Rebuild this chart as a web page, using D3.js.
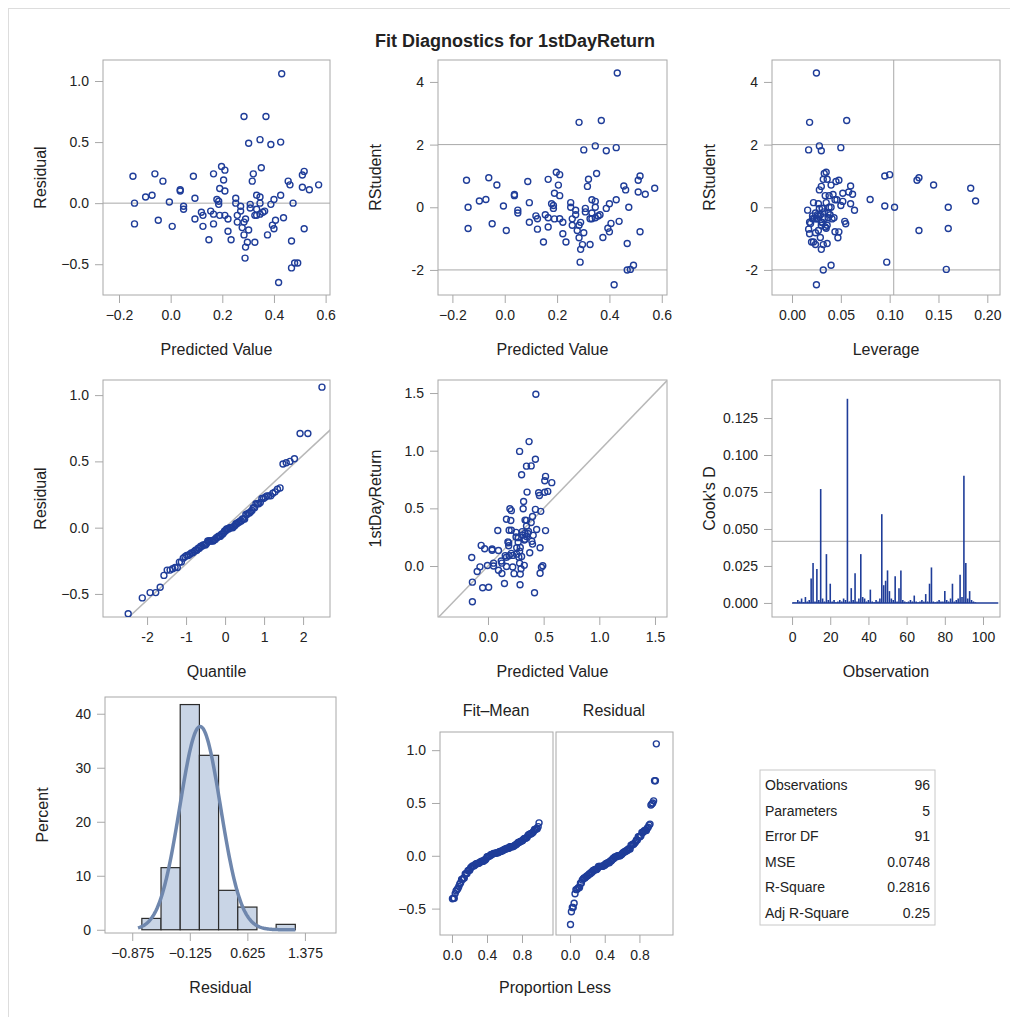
<!DOCTYPE html>
<html><head><meta charset="utf-8">
<script src="https://cdn.jsdelivr.net/npm/d3@7"></script>
<style>
body{margin:0;background:#fff;}
text{font-family:"Liberation Sans",Arial,sans-serif;fill:#222;}
</style></head>
<body><svg id="chart" width="1010" height="1017"></svg>
<script>
// fit data
const predicted = [0.43,0.284,0.369,0.302,0.346,0.388,0.426,-0.146,-0.061,-0.03,0.088,0.166,0.197,0.21,0.205,0.19,0.21,0.32,0.316,0.351,0.455,0.462,0.517,0.51,0.51,0.537,0.573,0.037,0.037,-0.097,-0.072,-0.14,-0.005,0.094,0.179,0.186,0.252,0.252,0.333,0.346,0.426,0.40,0.474,0.05,0.05,-0.14,-0.048,0.006,0.094,0.119,0.125,0.125,0.155,0.166,0.166,0.19,0.21,0.222,0.222,0.234,0.148,0.258,0.258,0.271,0.277,0.284,0.29,0.302,0.297,0.29,0.288,0.308,0.308,0.326,0.326,0.333,0.346,0.346,0.364,0.375,0.388,0.394,0.40,0.406,0.437,0.468,0.517,0.418,0.468,0.48,0.492,0.333,0.357,0.186,0.271,0.284];
const residual = [1.06,0.71,0.71,0.49,0.52,0.48,0.50,0.22,0.24,0.18,0.22,0.24,0.30,0.27,0.19,0.12,0.10,0.24,0.18,0.29,0.18,0.15,0.26,0.23,0.13,0.11,0.15,0.11,0.10,0.05,0.065,0.0,0.01,0.04,0.03,-0.01,0.04,0.0,0.065,0.05,0.065,0.03,0.0,-0.025,-0.05,-0.17,-0.14,-0.19,-0.13,-0.075,-0.10,-0.19,-0.065,-0.17,-0.09,-0.10,-0.10,-0.13,-0.23,-0.30,-0.30,-0.10,-0.155,-0.065,-0.20,-0.26,-0.13,-0.22,-0.32,-0.36,-0.45,-0.01,-0.04,-0.10,-0.32,-0.05,0.0,-0.09,-0.065,-0.26,-0.01,-0.18,-0.21,-0.14,-0.12,-0.31,-0.21,-0.65,-0.53,-0.49,-0.49,-0.10,-0.075,0.015,-0.025,-0.155];
const leverage = [0.025,0.018,0.056,0.017,0.028,0.030,0.050,0.128,0.130,0.145,0.045,0.032,0.035,0.100,0.040,0.052,0.038,0.036,0.030,0.033,0.060,0.028,0.095,0.048,0.058,0.062,0.183,0.042,0.034,0.188,0.080,0.160,0.095,0.022,0.027,0.031,0.035,0.038,0.044,0.052,0.046,0.060,0.105,0.016,0.024,0.160,0.055,0.130,0.018,0.021,0.026,0.017,0.029,0.034,0.037,0.041,0.025,0.030,0.018,0.022,0.020,0.033,0.036,0.039,0.027,0.047,0.031,0.024,0.032,0.030,0.097,0.028,0.033,0.021,0.024,0.037,0.040,0.043,0.026,0.029,0.031,0.035,0.048,0.019,0.054,0.036,0.044,0.025,0.032,0.158,0.040,0.023,0.027,0.050,0.064,0.030];
const cooksD = [0.0005,0.0003,0.002,0.001,0.003,0.0005,0.004,0.001,0.002,0.0165,0.027,0.001,0.023,0.002,0.077,0.003,0.001,0.033,0.002,0.013,0.001,0.002,0.0005,0.001,0.002,0.001,0.003,0.002,0.138,0.001,0.010,0.002,0.020,0.001,0.003,0.033,0.004,0.003,0.001,0.002,0.009,0.001,0.0005,0.002,0.001,0.003,0.060,0.012,0.015,0.022,0.008,0.003,0.002,0.018,0.001,0.010,0.022,0.002,0.001,0.0005,0.001,0.002,0.001,0.005,0.001,0.0005,0.001,0.002,0.001,0.006,0.001,0.013,0.024,0.001,0.0005,0.001,0.002,0.001,0.001,0.008,0.002,0.001,0.003,0.013,0.001,0.002,0.003,0.019,0.004,0.086,0.027,0.003,0.008,0.002,0.001,0.0005];
const histEdges = [-0.75,-0.5,-0.25,0,0.25,0.5,0.75,1.0,1.25];
const histPercent = [2.1,11.5,41.7,32.3,7.3,4.2,0,1.0];
const statNames = ["Observations","Parameters","Error DF","MSE","R-Square","Adj R-Square"];
const statValues = ["96","5","91","0.0748","0.2816","0.25"];
const nObs = 96, nParm = 5, mse = 0.0748;

const svg = d3.select("#chart");
const blue = "#1f3d99", grid = "#a8a8a8";

svg.append("rect").attr("x",8.5).attr("y",8.5).attr("width",1010).attr("height",1020)
  .attr("fill","none").attr("stroke","#ddd");
svg.append("text").attr("x",515).attr("y",47).attr("text-anchor","middle")
  .style("font-size","18px").style("font-weight","bold").text("Fit Diagnostics for 1stDayReturn");

// studentized (deleted) residuals
const dfe = nObs - nParm;
const rstudent = residual.map((e,i) => {
  const h = leverage[i];
  const s2i = (dfe*mse - e*e/(1-h))/(dfe-1);
  return e/Math.sqrt(s2i*(1-h));
});

function panel(o) {
  const g = svg.append("g");
  const x = d3.scaleLinear().domain(o.xd).range([o.x0,o.x1]);
  const y = d3.scaleLinear().domain(o.yd).range([o.y1,o.y0]);
  g.append("rect").attr("x",o.x0).attr("y",o.y0).attr("width",o.x1-o.x0).attr("height",o.y1-o.y0)
    .attr("fill","#fff").attr("stroke",grid);
  g.append("g").attr("transform",`translate(0,${o.y1})`)
    .call(d3.axisBottom(x).tickValues(o.xt).tickSize(8).tickPadding(7).tickFormat(o.xf||(d=>d)));
  if (o.yt) {
    g.append("g").attr("transform",`translate(${o.x0},0)`)
      .call(d3.axisLeft(y).tickValues(o.yt).tickSize(8).tickPadding(6).tickFormat(o.yf||(d=>d)));
  }
  g.selectAll(".domain").remove();
  g.selectAll(".tick line").attr("stroke",grid);
  g.selectAll(".tick text").style("font-size","14px").attr("fill","#222");
  if (o.xl) g.append("text").attr("x",(o.x0+o.x1)/2).attr("y",o.y1+60).attr("text-anchor","middle")
    .style("font-size","16px").text(o.xl);
  if (o.yl) g.append("text").attr("transform",`translate(${o.x0-57},${(o.y0+o.y1)/2}) rotate(-90)`)
    .attr("text-anchor","middle").style("font-size","16px").text(o.yl);
  const clip = "c"+Math.round(o.x0)+"_"+Math.round(o.y0);
  g.append("clipPath").attr("id",clip).append("rect").attr("x",o.x0).attr("y",o.y0)
    .attr("width",o.x1-o.x0).attr("height",o.y1-o.y0);
  const inner = g.append("g").attr("clip-path",`url(#${clip})`);
  return {g:inner, x, y};
}
function hline(p,v){p.g.append("line").attr("x1",p.x.range()[0]).attr("x2",p.x.range()[1])
  .attr("y1",p.y(v)).attr("y2",p.y(v)).attr("stroke",grid);}
function vline(p,v){p.g.append("line").attr("y1",p.y.range()[0]).attr("y2",p.y.range()[1])
  .attr("x1",p.x(v)).attr("x2",p.x(v)).attr("stroke",grid);}
function dots(p,xs,ys){p.g.selectAll(null).data(xs).join("circle")
  .attr("cx",(d)=>p.x(d)).attr("cy",(d,i)=>p.y(ys[i])).attr("r",3)
  .attr("fill","none").attr("stroke",blue).attr("stroke-width",1.4);}
const f1 = d3.format(".1f"), f2 = d3.format(".2f"), f3 = d3.format(".3f");

// row 1
const p1 = panel({x0:103,x1:330,y0:60,y1:295,xd:[-0.262,0.617],yd:[-0.752,1.172],
  xt:[-0.2,0,0.2,0.4,0.6],xf:f1,yt:[-0.5,0,0.5,1.0],yf:f1,xl:"Predicted Value",yl:"Residual"});
hline(p1,0); dots(p1,predicted,residual);

const p2 = panel({x0:438,x1:667,y0:60,y1:295,xd:[-0.255,0.62],yd:[-2.8,4.7],
  xt:[-0.2,0,0.2,0.4,0.6],xf:f1,yt:[-2,0,2,4],xl:"Predicted Value",yl:"RStudent"});
hline(p2,2); hline(p2,-2); dots(p2,predicted,rstudent);

const p3 = panel({x0:772,x1:1000,y0:60,y1:295,xd:[-0.0205,0.213],yd:[-2.8,4.7],
  xt:[0,0.05,0.1,0.15,0.2],xf:f2,yt:[-2,0,2,4],xl:"Leverage",yl:"RStudent"});
hline(p3,2); hline(p3,-2); vline(p3,2*nParm/nObs); dots(p3,leverage,rstudent);

// row 2: normal quantile plot
const sorted = residual.slice().sort(d3.ascending);
function probit(p){ // Acklam approximation of the inverse normal
  const a=[-39.6968302866538,220.946098424521,-275.928510446969,138.357751867269,-30.6647980661472,2.50662827745924],
  b=[-54.4760987982241,161.585836858041,-155.698979859887,66.8013118877197,-13.2806815528857],
  c=[-0.00778489400243029,-0.322396458041136,-2.40075827716184,-2.54973253934373,4.37466414146497,2.93816398269878],
  dd=[0.00778469570904146,0.32246712907004,2.445134137143,3.75440866190742];
  let q,r;
  if(p<0.02425){q=Math.sqrt(-2*Math.log(p));return (((((c[0]*q+c[1])*q+c[2])*q+c[3])*q+c[4])*q+c[5])/((((dd[0]*q+dd[1])*q+dd[2])*q+dd[3])*q+1);}
  if(p>1-0.02425){q=Math.sqrt(-2*Math.log(1-p));return -(((((c[0]*q+c[1])*q+c[2])*q+c[3])*q+c[4])*q+c[5])/((((dd[0]*q+dd[1])*q+dd[2])*q+dd[3])*q+1);}
  q=p-0.5;r=q*q;return (((((a[0]*r+a[1])*r+a[2])*r+a[3])*r+a[4])*r+a[5])*q/(((((b[0]*r+b[1])*r+b[2])*r+b[3])*r+b[4])*r+1);
}
const qq = sorted.map((d,i)=>probit((i+1-0.375)/(nObs+0.25)));
const p4 = panel({x0:103,x1:330,y0:380,y1:617,xd:[-3.13,2.69],yd:[-0.674,1.114],
  xt:[-2,-1,0,1,2],yt:[-0.5,0,0.5,1.0],yf:f1,xl:"Quantile",yl:"Residual"});
p4.g.append("line").attr("x1",p4.x(-4)).attr("x2",p4.x(4)).attr("y1",p4.y(-4*Math.sqrt(mse)))
  .attr("y2",p4.y(4*Math.sqrt(mse))).attr("stroke","#b8b8b8").attr("stroke-width",1.5);
dots(p4,qq,sorted);

const observed = predicted.map((d,i)=>d+residual[i]);
const p5 = panel({x0:438,x1:667,y0:380,y1:617,xd:[-0.449,1.608],yd:[-0.442,1.613],
  xt:[0,0.5,1.0,1.5],xf:f1,yt:[0,0.5,1.0,1.5],yf:f1,xl:"Predicted Value",yl:"1stDayReturn"});
p5.g.append("line").attr("x1",p5.x(-1)).attr("x2",p5.x(2)).attr("y1",p5.y(-1)).attr("y2",p5.y(2))
  .attr("stroke","#b8b8b8").attr("stroke-width",1.5);
dots(p5,predicted,observed);

const obsIdx = d3.range(1,nObs+1);
const p6 = panel({x0:772,x1:1000,y0:380,y1:617,xd:[-10.5,108.9],yd:[-0.0095,0.1507],
  xt:[0,20,40,60,80,100],yt:[0,0.025,0.05,0.075,0.1,0.125],yf:f3,xl:"Observation",yl:"Cook's D"});
hline(p6,4/nObs);
p6.g.selectAll(null).data(obsIdx).join("line").attr("x1",d=>p6.x(d)).attr("x2",d=>p6.x(d))
  .attr("y1",p6.y(0)).attr("y2",(d,i)=>p6.y(cooksD[i])).attr("stroke",blue).attr("stroke-width",1.6);
p6.g.append("line").attr("x1",p6.x(0)).attr("x2",p6.x(108)).attr("y1",p6.y(0)).attr("y2",p6.y(0))
  .attr("stroke",blue).attr("stroke-width",1.4);

// row 3: histogram
const ph = panel({x0:105,x1:336,y0:697,y1:933,xd:[-1.23,1.78],yd:[-0.6,43.1],
  xt:[-0.875,-0.125,0.625,1.375],xf:f3,yt:[0,10,20,30,40],xl:"Residual",yl:"Percent"});
ph.g.selectAll(null).data(histPercent).join("rect")
  .attr("x",(d,i)=>ph.x(histEdges[i])).attr("width",(d,i)=>ph.x(histEdges[i+1])-ph.x(histEdges[i]))
  .attr("y",d=>ph.y(d)).attr("height",d=>ph.y(0)-ph.y(d))
  .attr("fill","#c9d5e6").attr("stroke","#2b2b2b").attr("stroke-width",1.2);
const sd = 0.265;
const curveX = d3.range(-0.8,1.26,0.01);
ph.g.append("path").datum(curveX).attr("fill","none").attr("stroke","#6f87ad").attr("stroke-width",3.5)
  .attr("d",d3.line().x(d=>ph.x(d)).y(d=>ph.y(100*0.25*Math.exp(-0.5*((d-0.01)/sd)**2)/(sd*Math.sqrt(2*Math.PI)))));

// residual-fit spread
const fitMean = d3.mean(predicted);
const fm = predicted.map(d=>d-fitMean).sort(d3.ascending);
const prop = d3.range(nObs).map(i=>(i+0.5)/nObs);
const rfL = panel({x0:440,x1:553,y0:732,y1:935,xd:[-0.137,1.154],yd:[-0.75,1.172],
  xt:[0,0.4,0.8],xf:f1,yt:[-0.5,0,0.5,1.0],yf:f1});
dots(rfL,prop,fm);
const rfR = panel({x0:556,x1:673,y0:732,y1:935,xd:[-0.162,1.187],yd:[-0.75,1.172],
  xt:[0,0.4,0.8],xf:f1});
dots(rfR,prop,sorted);
svg.append("text").attr("x",496).attr("y",716).attr("text-anchor","middle").style("font-size","16px").text("Fit–Mean");
svg.append("text").attr("x",614).attr("y",716).attr("text-anchor","middle").style("font-size","16px").text("Residual");
svg.append("text").attr("x",555).attr("y",993).attr("text-anchor","middle").style("font-size","16px").text("Proportion Less");

// stats table
const tb = svg.append("g").attr("transform","translate(760,770)");
tb.append("rect").attr("width",175).attr("height",155).attr("fill","#fff").attr("stroke","#c8c8c8");
tb.selectAll(null).data(statNames).join("text").attr("x",5).attr("y",(d,i)=>20+i*25.5)
  .style("font-size","14px").text(d=>d);
tb.selectAll(null).data(statValues).join("text").attr("x",170).attr("y",(d,i)=>20+i*25.5)
  .attr("text-anchor","end").style("font-size","14px").text(d=>d);
</script></body></html>
